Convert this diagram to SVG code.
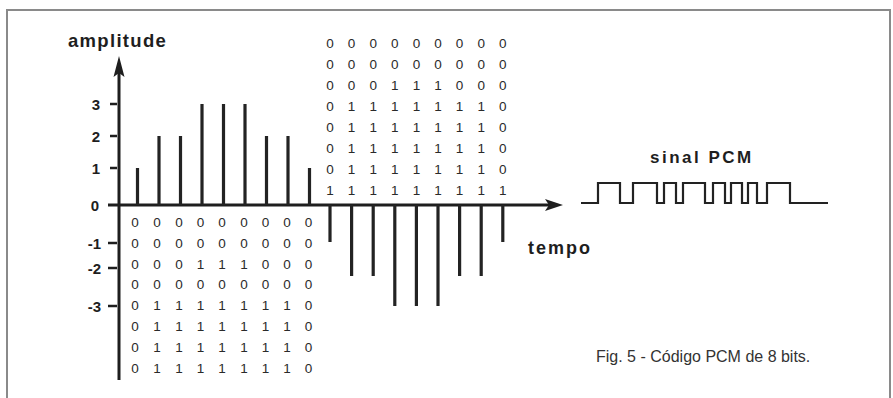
<svg xmlns="http://www.w3.org/2000/svg" width="893" height="398" viewBox="0 0 893 398">
  <style>
    .frame { stroke: #8a8a8a; stroke-width: 2; fill: none; }
    .axis { stroke: #1e1e1e; stroke-width: 3; fill: none; }
    .bar { stroke: #232323; stroke-width: 3.2; }
    .tick { stroke: #1e1e1e; stroke-width: 2.5; }
    .bits { font-family: "Liberation Sans", Arial, sans-serif; font-size: 13.5px; fill: #2a2a2a; text-anchor: middle; }
    .lbl { font-family: "Liberation Sans", Arial, sans-serif; font-weight: bold; fill: #1e1e1e; }
    .num { font-size: 15px; text-anchor: end; }
    .signal { stroke: #222; stroke-width: 2.2; fill: none; }
    .caption { font-family: "Liberation Sans", Arial, sans-serif; font-size: 16px; fill: #333; }
  </style>

  <rect width="893" height="398" fill="#ffffff"/>

  <!-- page frame -->
  <g id="frame">
    <path class="frame" d="M7,398 V10 H890 V398"/>
  </g>

  <!-- amplitude and time axes -->
  <g id="axes">
    <line class="axis" x1="119" y1="70" x2="119" y2="380"/>
    <polygon points="119,56 113.5,77 119,73 124.5,77" fill="#1e1e1e"/>
    <line class="axis" x1="108" y1="205" x2="552" y2="205"/>
    <polygon points="563,205 545,199 549,205 545,211" fill="#1e1e1e"/>
    <line class="tick" x1="110" y1="104" x2="117" y2="104"/>
    <line class="tick" x1="110" y1="136" x2="117" y2="136"/>
    <line class="tick" x1="110" y1="168" x2="117" y2="168"/>
    <line class="tick" x1="108" y1="243" x2="117" y2="243"/>
    <line class="tick" x1="108" y1="268" x2="117" y2="268"/>
    <line class="tick" x1="108" y1="306" x2="117" y2="306"/>
  </g>

  <!-- axis labels -->
  <g id="axis-labels">
    <text class="lbl" x="68" y="47" font-size="18.5" letter-spacing="1.3">amplitude</text>
    <text class="lbl num" x="100" y="109.5">3</text>
    <text class="lbl num" x="100" y="141.5">2</text>
    <text class="lbl num" x="100" y="173.5">1</text>
    <text class="lbl num" x="99" y="210.5">0</text>
    <text class="lbl num" x="101" y="248.5">-1</text>
    <text class="lbl num" x="101" y="273.5">-2</text>
    <text class="lbl num" x="101" y="311.5">-3</text>
    <text class="lbl" x="528" y="254" font-size="18" letter-spacing="2">tempo</text>
  </g>

  <!-- positive samples -->
  <g id="samples-positive">
    <line class="bar" x1="137.5" y1="168" x2="137.5" y2="205"/>
    <line class="bar" x1="159" y1="136" x2="159" y2="205"/>
    <line class="bar" x1="180.5" y1="136" x2="180.5" y2="205"/>
    <line class="bar" x1="202" y1="104" x2="202" y2="205"/>
    <line class="bar" x1="223.5" y1="104" x2="223.5" y2="205"/>
    <line class="bar" x1="245" y1="104" x2="245" y2="205"/>
    <line class="bar" x1="266.5" y1="136" x2="266.5" y2="205"/>
    <line class="bar" x1="288" y1="136" x2="288" y2="205"/>
    <line class="bar" x1="309.5" y1="168" x2="309.5" y2="205"/>
  </g>

  <!-- negative samples -->
  <g id="samples-negative">
    <line class="bar" x1="330" y1="205" x2="330" y2="242"/>
    <line class="bar" x1="351.6" y1="205" x2="351.6" y2="276"/>
    <line class="bar" x1="373.2" y1="205" x2="373.2" y2="276"/>
    <line class="bar" x1="394.8" y1="205" x2="394.8" y2="306"/>
    <line class="bar" x1="416.4" y1="205" x2="416.4" y2="306"/>
    <line class="bar" x1="438" y1="205" x2="438" y2="306"/>
    <line class="bar" x1="459.6" y1="205" x2="459.6" y2="276"/>
    <line class="bar" x1="481.2" y1="205" x2="481.2" y2="276"/>
    <line class="bar" x1="502.8" y1="205" x2="502.8" y2="242"/>
  </g>

  <!-- 8-bit codes of the negative samples -->
  <g id="codes-upper" class="bits">
    <text x="330 351.6 373.2 394.8 416.4 438 459.6 481.2 502.8" y="48">000000000</text>
    <text x="330 351.6 373.2 394.8 416.4 438 459.6 481.2 502.8" y="69">000000000</text>
    <text x="330 351.6 373.2 394.8 416.4 438 459.6 481.2 502.8" y="90">000111000</text>
    <text x="330 351.6 373.2 394.8 416.4 438 459.6 481.2 502.8" y="111">011111110</text>
    <text x="330 351.6 373.2 394.8 416.4 438 459.6 481.2 502.8" y="132">011111110</text>
    <text x="330 351.6 373.2 394.8 416.4 438 459.6 481.2 502.8" y="153">011111110</text>
    <text x="330 351.6 373.2 394.8 416.4 438 459.6 481.2 502.8" y="174">011111110</text>
    <text x="330 351.6 373.2 394.8 416.4 438 459.6 481.2 502.8" y="195">111111111</text>
  </g>

  <!-- 8-bit codes of the positive samples -->
  <g id="codes-lower" class="bits">
    <text x="135 157 179 200.5 222 244 265.5 287 308.5" y="227">000000000</text>
    <text x="135 157 179 200.5 222 244 265.5 287 308.5" y="248">000000000</text>
    <text x="135 157 179 200.5 222 244 265.5 287 308.5" y="269">000111000</text>
    <text x="135 157 179 200.5 222 244 265.5 287 308.5" y="289">000000000</text>
    <text x="135 157 179 200.5 222 244 265.5 287 308.5" y="310">011111110</text>
    <text x="135 157 179 200.5 222 244 265.5 287 308.5" y="331">011111110</text>
    <text x="135 157 179 200.5 222 244 265.5 287 308.5" y="352">011111110</text>
    <text x="135 157 179 200.5 222 244 265.5 287 308.5" y="373">011111110</text>
  </g>

  <!-- serial PCM waveform -->
  <g id="pcm-signal">
    <text class="lbl" x="650" y="163" font-size="17" letter-spacing="2.5">sinal PCM</text>
    <path class="signal" d="M581,203 H598 V183 H620 V203 H633 V183 H657 V203 H664 V183 H676 V203 H683 V183 H705 V203 H713 V183 H725 V203 H731 V183 H742 V203 H748 V183 H757 V203 H767 V183 H790 V203 H828"/>
  </g>

  <!-- caption -->
  <g id="caption">
    <text class="caption" x="596" y="362">Fig. 5 - Código PCM de 8 bits.</text>
  </g>
</svg>
